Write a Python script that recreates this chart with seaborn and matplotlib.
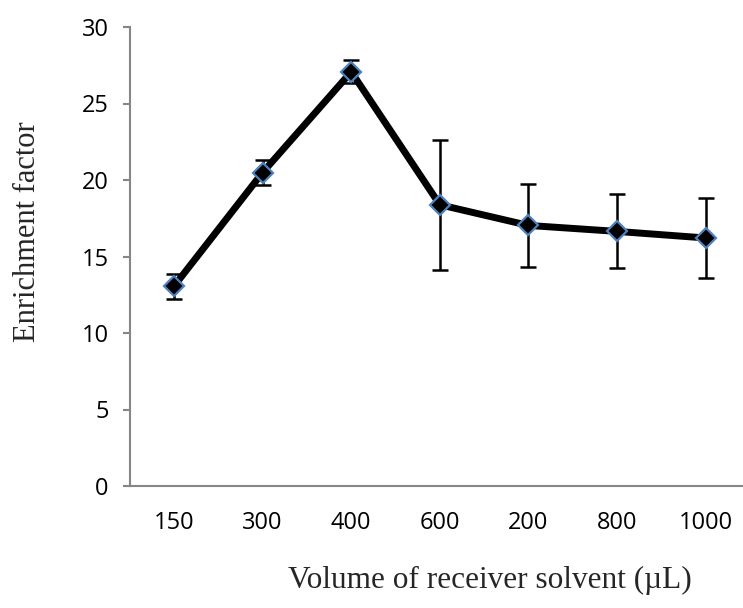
import numpy as np
import pandas as pd
import matplotlib
matplotlib.use("Agg")
import matplotlib.pyplot as plt
import seaborn as sns
from matplotlib.ticker import FixedLocator

# data
volumes = ["150", "300", "400", "600", "200", "800", "1000"]
enrichment = [13.06, 20.49, 27.07, 18.38, 17.03, 16.64, 16.21]
errors = [0.82, 0.80, 0.75, 4.24, 2.72, 2.42, 2.64]
y_ticks = [0, 5, 10, 15, 20, 25, 30]

sns.set_style("white")
plt.rcParams["font.family"] = ["Open Sans", "DejaVu Sans"]

W, H = 743, 608
fig = plt.figure(figsize=(W / 100, H / 100), dpi=100)
ax = fig.add_axes([129.7 / W, 1 - 486 / H, 620.3 / W, 459 / H])

df = pd.DataFrame({"vol": volumes, "ef": enrichment})

ax.errorbar(volumes, enrichment, yerr=errors, fmt="none", ecolor="black",
            elinewidth=1.8, capsize=6, capthick=1.8, zorder=2)
sns.lineplot(data=df, x="vol", y="ef", sort=False, color="black", linewidth=5,
             marker="D", markersize=10, markerfacecolor="black",
             markeredgecolor="#4F81BD", markeredgewidth=1.6, ax=ax, zorder=3)

ax.set_xlim(-0.5, len(volumes) - 0.5)
ax.set_ylim(0, 30)
ax.set_yticks(y_ticks)

grey = "#868686"
for s in ["top", "right"]:
    ax.spines[s].set_visible(False)
for s in ["left", "bottom"]:
    ax.spines[s].set_color(grey)
    ax.spines[s].set_linewidth(1.5)

ax.xaxis.set_minor_locator(FixedLocator(np.arange(-0.5, len(volumes), 1.0)))
ax.tick_params(axis="x", which="major", length=0, pad=18, labelsize=17, labelcolor="black")
ax.tick_params(axis="x", which="minor", length=5, width=1.5, color=grey, direction="out")
ax.tick_params(axis="y", which="major", length=5, width=1.5, color=grey, direction="out",
               pad=10, labelsize=17, labelcolor="black", left=True)

ax.set_xlabel("Volume of receiver solvent (µL)", fontsize=22.5, family="Liberation Serif",
              va="center")
ax.xaxis.set_label_coords(0.58, -0.205)
ax.set_ylabel("Enrichment factor", fontsize=22, family="Liberation Serif", va="center")
ax.yaxis.set_label_coords(-0.165, 0.555)

fig.savefig("out.png", dpi=100)
